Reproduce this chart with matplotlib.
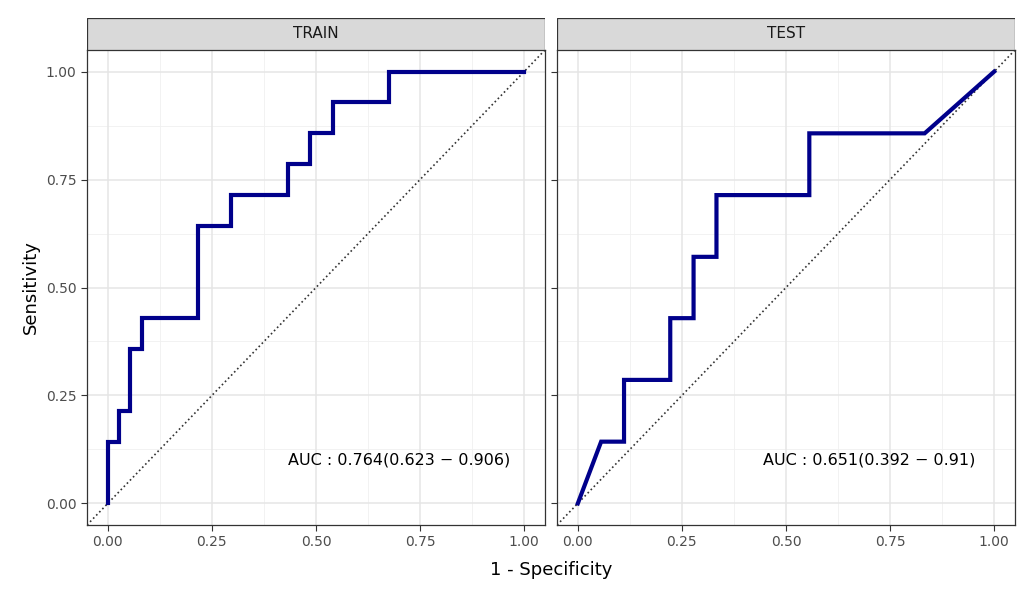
import matplotlib.pyplot as plt
from matplotlib.patches import Rectangle

# ROC points (1 - specificity, sensitivity)
train_fpr = [0, 0, 0.027, 0.027, 0.054, 0.054, 0.081, 0.081, 0.216, 0.216, 0.297, 0.297,
             0.432, 0.432, 0.486, 0.486, 0.541, 0.541, 0.676, 0.676, 1.0]
train_tpr = [0, 0.143, 0.143, 0.214, 0.214, 0.357, 0.357, 0.429, 0.429, 0.643, 0.643, 0.714,
             0.714, 0.786, 0.786, 0.857, 0.857, 0.929, 0.929, 1.0, 1.0]
test_fpr = [0, 0.056, 0.111, 0.111, 0.222, 0.222, 0.278, 0.278, 0.333, 0.333, 0.556, 0.556,
            0.833, 1.0]
test_tpr = [0, 0.143, 0.143, 0.286, 0.286, 0.429, 0.429, 0.571, 0.571, 0.714, 0.714, 0.857,
            0.857, 1.0]
panels = ["TRAIN", "TEST"]
auc_labels = ["AUC : 0.764(0.623 \u2212 0.906)", "AUC : 0.651(0.392 \u2212 0.91)"]
ticks = [0, 0.25, 0.5, 0.75, 1.0]
tick_labels = ["0.00", "0.25", "0.50", "0.75", "1.00"]

fig = plt.figure(figsize=(10.3, 5.93), dpi=100)
W, H = 1030, 593
lefts = [87, 557]
pw = 458
top, bottom = 50, 525
data = [(train_fpr, train_tpr), (test_fpr, test_tpr)]

for i, (l, (fx, ty)) in enumerate(zip(lefts, data)):
    ax = fig.add_axes([l / W, 1 - bottom / H, pw / W, (bottom - top) / H])
    ax.set_xlim(-0.05, 1.05)
    ax.set_ylim(-0.05, 1.05)
    minor = [0.125, 0.375, 0.625, 0.875]
    for m in minor:
        ax.axvline(m, color="#f0f0f0", lw=0.6, zorder=0)
        ax.axhline(m, color="#f0f0f0", lw=0.6, zorder=0)
    for t in ticks:
        ax.axvline(t, color="#e5e5e5", lw=1.1, zorder=0)
        ax.axhline(t, color="#e5e5e5", lw=1.1, zorder=0)
    ax.plot([-0.05, 1.05], [-0.05, 1.05], ls=":", color="#333333", lw=1.2)
    ax.plot(fx, ty, color="#00008B", lw=3, solid_joinstyle="miter")
    ax.text(0.70, 0.1, auc_labels[i], ha="center", va="center", fontsize=11.5)
    ax.set_xticks(ticks)
    ax.set_xticklabels(tick_labels, fontsize=10, color="#4d4d4d")
    ax.set_yticks(ticks)
    if i == 0:
        ax.set_yticklabels(tick_labels, fontsize=10, color="#4d4d4d")
        ax.set_ylabel("Sensitivity", fontsize=13)
    else:
        ax.set_yticklabels([])
        ax.tick_params(axis="y", length=0)
    ax.tick_params(color="#333333", length=4)
    for s in ax.spines.values():
        s.set_color("#333333")
        s.set_linewidth(0.9)
    # facet strip
    sax = fig.add_axes([l / W, 1 - top / H, pw / W, 32 / H])
    sax.add_patch(Rectangle((0, 0), 1, 1, facecolor="#d9d9d9", edgecolor="#333333", lw=0.9,
                            transform=sax.transAxes))
    sax.text(0.5, 0.5, panels[i], ha="center", va="center", fontsize=11, color="#1a1a1a")
    sax.set_axis_off()

fig.text((87 + 1015) / 2 / W, 1 - 570 / H, "1 - Specificity", ha="center", va="center", fontsize=13)
fig.savefig("out.png", dpi=100)
